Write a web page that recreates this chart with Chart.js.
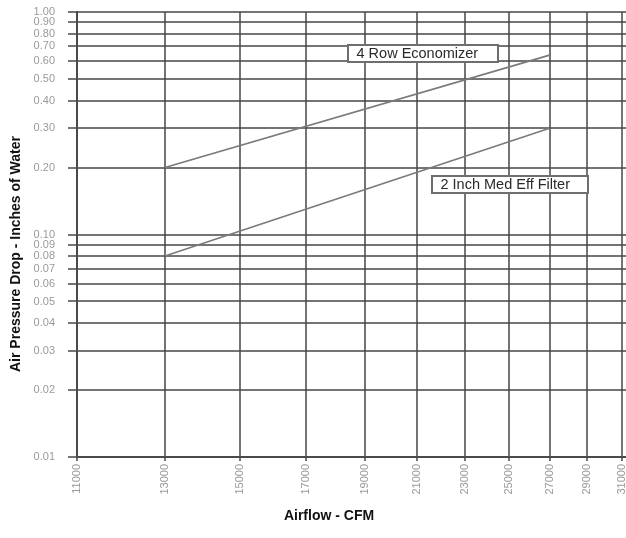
<!DOCTYPE html>
<html>
<head>
<meta charset="utf-8">
<script src="https://cdn.jsdelivr.net/npm/chart.js@4/dist/chart.umd.min.js"></script>
<style>
html,body{margin:0;padding:0;background:#fff;}
#wrap{width:626px;height:538px;position:relative;}
</style>
</head>
<body>
<div id="wrap"><canvas id="c" width="626" height="538"></canvas></div>
<script>
// ---- data ----
const xTickValues = [11000, 13000, 15000, 17000, 19000, 21000, 23000, 25000, 27000, 29000, 31000];
const yTickValues = [0.01, 0.02, 0.03, 0.04, 0.05, 0.06, 0.07, 0.08, 0.09, 0.10,
                     0.20, 0.30, 0.40, 0.50, 0.60, 0.70, 0.80, 0.90, 1.00];
const economizerCFM = [13000, 27000];
const economizerDrop = [0.20, 0.64];
const filterCFM = [13000, 27000];
const filterDrop = [0.08, 0.30];
const seriesNames = ['4 Row Economizer', '2 Inch Med Eff Filter'];
const xTitle = 'Airflow - CFM';
const yTitle = 'Air Pressure Drop - Inches of Water';

const toPts = (xs, ys) => xs.map((x, i) => ({x: x, y: ys[i]}));
const FONT = '"Liberation Sans", Arial, Helvetica, sans-serif';

const labelPlugin = {
  id: 'labels',
  afterDraw(chart) {
    const ctx = chart.ctx;
    ctx.save();
    ctx.fillStyle = '#111';
    ctx.font = 'bold 14px ' + FONT;
    ctx.textAlign = 'center';
    ctx.textBaseline = 'middle';
    ctx.fillText(xTitle, 329, 516);
    ctx.translate(16, 254);
    ctx.rotate(-Math.PI / 2);
    ctx.fillText(yTitle, 0, 0);
    ctx.restore();

    const boxes = [
      {text: seriesNames[0], x: 348, y: 45, w: 150, h: 17},
      {text: seriesNames[1], x: 432, y: 176, w: 156, h: 17}
    ];
    ctx.save();
    boxes.forEach(b => {
      ctx.fillStyle = '#fff';
      ctx.fillRect(b.x, b.y, b.w, b.h);
      ctx.strokeStyle = '#6e6e6e';
      ctx.lineWidth = 2;
      ctx.strokeRect(b.x, b.y, b.w, b.h);
      ctx.fillStyle = '#2a2a2a';
      ctx.font = '14.5px ' + FONT;
      ctx.textAlign = 'left';
      ctx.textBaseline = 'middle';
      ctx.fillText(b.text, b.x + 8.5, b.y + b.h / 2 + 0.5);
    });
    ctx.restore();
  }
};

new Chart(document.getElementById('c'), {
  type: 'scatter',
  data: {
    datasets: [
      {label: seriesNames[0], data: toPts(economizerCFM, economizerDrop), showLine: true,
       borderColor: '#7a7a7a', borderWidth: 1.6, pointRadius: 0, fill: false},
      {label: seriesNames[1], data: toPts(filterCFM, filterDrop), showLine: true,
       borderColor: '#7a7a7a', borderWidth: 1.6, pointRadius: 0, fill: false}
    ]
  },
  options: {
    responsive: false,
    animation: false,
    devicePixelRatio: 1,
    layout: {padding: {top: 12, right: 0, left: 0, bottom: 0}},
    plugins: {legend: {display: false}, tooltip: {enabled: false}, title: {display: false}},
    scales: {
      x: {
        type: 'logarithmic',
        min: 11000, max: 31220,
        afterBuildTicks: s => { s.ticks = xTickValues.map(v => ({value: v})); },
        afterFit: s => { s.height = 81; s.paddingLeft = 0; s.paddingRight = 0; },
        ticks: {
          autoSkip: false, minRotation: 90, maxRotation: 90,
          color: '#9a9a9a', font: {family: FONT, size: 11}, padding: 3,
          callback: v => String(v)
        },
        grid: {color: 'rgba(70,70,70,0.75)', lineWidth: 2, tickLength: 4},
        border: {color: '#4a4a4a', width: 2}
      },
      y: {
        type: 'logarithmic',
        min: 0.01, max: 1.0,
        afterBuildTicks: s => { s.ticks = yTickValues.map(v => ({value: v})); },
        afterFit: s => { s.width = 77; s.paddingTop = 0; s.paddingBottom = 0; },
        ticks: {
          autoSkip: false, color: '#9a9a9a', font: {family: FONT, size: 11}, padding: 13,
          callback: v => Number(v).toFixed(2)
        },
        grid: {color: 'rgba(70,70,70,0.75)', lineWidth: 2, tickLength: 9},
        border: {color: '#4a4a4a', width: 2}
      }
    }
  },
  plugins: [labelPlugin]
});
</script>
</body>
</html>
